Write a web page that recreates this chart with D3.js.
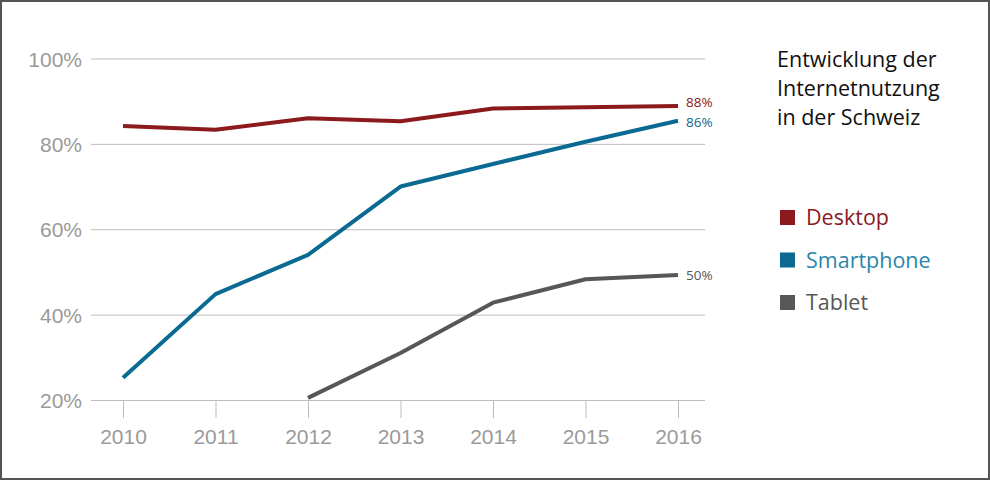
<!DOCTYPE html>
<html>
<head>
<meta charset="utf-8">
<script src="https://cdn.jsdelivr.net/npm/d3@7"></script>
<style>
	body { margin:0; background:#fff; }
	svg { display:block; font-family:"Open Sans", sans-serif; }
	.grid line { stroke:#bdbdbd; stroke-width:1; }
	.grid text, .xaxis text { fill:#9a9a9a; }
	.xaxis line { stroke:#bdbdbd; }
</style>
</head>
<body>
<svg id="chart" width="990" height="480"></svg>
<script>
// ==================== Data ====================
var years = [2010, 2011, 2012, 2013, 2014, 2015, 2016];
var yTicks = [20, 40, 60, 80, 100];
var desktop    = [84.2, 83.3, 86.0, 85.3, 88.3, 88.6, 88.9];
var smartphone = [25.2, 44.8, 54.0, 70.0, 75.3, 80.5, 85.4];
var tablet     = [null, null, 20.5, 31.0, 42.8, 48.3, 49.3];
var endLabels  = ["88%", "86%", "50%"];
var seriesNames = ["Desktop", "Smartphone", "Tablet"];
var titleLines = ["Entwicklung der", "Internetnutzung", "in der Schweiz"];

var colors = ["#8c1a1c", "#0a6a92", "#575757"];
var legendColors = ["#8c1a1c", "#2a86aa", "#575757"];
//small vertical nudge so the end labels don't collide
var labelNudge = [-4, 1, 0];

var svg = d3.select("#chart");

// border
svg.append("rect")
	.attr("x", 1).attr("y", 1)
	.attr("width", 988).attr("height", 478)
	.attr("fill", "none")
	.attr("stroke", "#555")
	.attr("stroke-width", 2);

var x = d3.scalePoint().domain(years).range([123, 678]);
var y = d3.scaleLinear().domain([20, 100]).range([400, 58.5]);

// ==================== Grid / Y axis ====================
var gridG = svg.append("g")
	.attr("class", "grid")
	.attr("transform", "translate(705,0)")
	.call(d3.axisLeft(y)
		.tickValues(yTicks)
		.tickSize(614)
		.tickPadding(9)
		.tickFormat(function(d){ return d + "%"; }));
gridG.select(".domain").remove();
gridG.selectAll("text").style("font-size", "21px").attr("dy", "0.36em");

// ==================== X axis ====================
var xG = svg.append("g")
	.attr("class", "xaxis")
	.attr("transform", "translate(0,400)")
	.call(d3.axisBottom(x).tickSize(18).tickPadding(11).tickFormat(d3.format("d")));
xG.select(".domain").remove();
xG.selectAll("text").style("font-size", "21px");

// ==================== Lines ====================
var allSeries = [desktop, smartphone, tablet];
var line = d3.line()
	.defined(function(d){ return d != null; })
	.x(function(d, i){ return x(years[i]); })
	.y(function(d){ return y(d); });

allSeries.forEach(function(s, k){
	svg.append("path")
		.datum(s)
		.attr("d", line)
		.attr("fill", "none")
		.attr("stroke", colors[k])
		.attr("stroke-width", 4)
		.attr("stroke-linejoin", "round");
	//label at the end
	var last = s[s.length - 1];
	svg.append("text")
		.attr("x", x(years[years.length - 1]) + 8)
		.attr("y", y(last) + labelNudge[k])
		.attr("dy", "0.35em")
		.style("font-size", "13.5px")
		.attr("fill", colors[k])
		.text(endLabels[k]);
});

// ==================== Title ====================
svg.append("g").selectAll("text")
	.data(titleLines)
	.enter()
	.append("text")
		.attr("x", 777)
		.attr("y", function(d, i){ return 67 + i * 29; })
		.style("font-size", "21.5px")
		.attr("fill", "#111")
		.text(function(d){ return d; });

// ==================== Legend ====================
var legend = svg.append("g").selectAll("g")
	.data(seriesNames)
	.enter()
	.append("g")
		.attr("transform", function(d, i){ return "translate(780," + (210 + i * 42.5) + ")"; });
legend.append("rect")
	.attr("width", 15).attr("height", 15)
	.attr("fill", function(d, i){ return colors[i]; });
legend.append("text")
	.attr("x", 26).attr("y", 15)
	.style("font-size", "21.5px")
	.attr("fill", function(d, i){ return legendColors[i]; })
	.text(function(d){ return d; });
</script>
</body>
</html>
